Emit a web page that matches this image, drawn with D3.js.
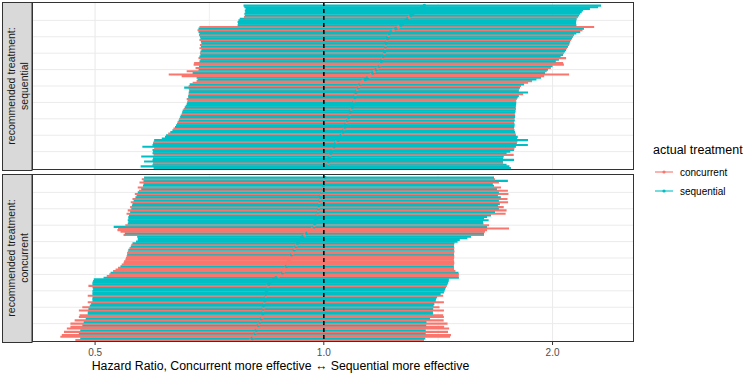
<!DOCTYPE html>
<html>
<head>
<meta charset="utf-8">
<script src="https://cdn.jsdelivr.net/npm/d3@7"></script>
<style>
  body { margin: 0; background: #fff; }
  text { font-family: "Liberation Sans", Arial, sans-serif; }
</style>
</head>
<body>
<div id="chart"></div>
<script>

// rows ordered bottom -> top, sorted by estimate inside each panel
// panel 1: recommended treatment sequential
let seqEst = [
  1.010,1.011,1.012,1.013,1.014,1.015,1.016,1.018,1.019,1.021,
  1.023,1.026,1.028,1.031,1.034,1.037,1.040,1.044,1.047,1.051,
  1.054,1.058,1.060,1.062,1.064,1.066,1.068,1.070,1.072,1.074,
  1.076,1.078,1.080,1.082,1.083,1.085,1.087,1.089,1.091,1.093,
  1.094,1.096,1.097,1.098,1.099,1.101,1.102,1.105,1.107,1.110,
  1.113,1.116,1.119,1.126,1.134,1.142,1.148,1.154,1.160,1.166,
  1.172,1.178,1.183,1.186,1.188,1.190,1.193,1.195,1.197,1.199,
  1.201,1.202,1.203,1.204,1.205,1.206,1.207,1.209,1.211,1.213,
  1.215,1.217,1.219,1.226,1.235,1.244,1.254,1.263,1.269,1.276,
  1.282,1.289,1.296,1.302,1.309,1.315,1.322,1.333,1.345,1.356]
let seqLo = [
  0.597,0.574,0.595,0.596,0.580,0.595,0.596,0.575,0.597,0.595,
  0.596,0.595,0.598,0.577,0.595,0.596,0.597,0.598,0.612,0.618,
  0.620,0.624,0.628,0.632,0.634,0.637,0.639,0.641,0.642,0.644,
  0.645,0.647,0.648,0.650,0.651,0.652,0.654,0.656,0.658,0.660,
  0.661,0.662,0.660,0.663,0.663,0.664,0.664,0.665,0.664,0.655,
  0.664,0.666,0.672,0.680,0.682,0.680,0.650,0.625,0.672,0.660,
  0.684,0.678,0.685,0.674,0.675,0.686,0.688,0.684,0.686,0.688,
  0.687,0.688,0.690,0.686,0.689,0.687,0.690,0.689,0.686,0.688,
  0.687,0.685,0.686,0.684,0.682,0.684,0.686,0.770,0.771,0.770,
  0.772,0.775,0.785,0.787,0.786,0.788,0.787,0.789,0.786,0.784]
let seqHi = [
  1.763,1.755,1.740,1.722,1.721,1.780,1.722,1.725,1.778,1.740,
  1.760,1.780,1.782,1.790,1.856,1.795,1.798,1.857,1.796,1.800,
  1.790,1.788,1.785,1.782,1.780,1.781,1.783,1.782,1.780,1.784,
  1.782,1.785,1.786,1.784,1.787,1.788,1.790,1.789,1.790,1.791,
  1.792,1.790,1.795,1.800,1.806,1.830,1.857,1.806,1.808,1.812,
  1.818,1.835,1.857,1.880,1.905,1.932,1.950,2.103,1.955,1.965,
  1.973,1.990,2.000,2.070,2.065,2.020,2.039,2.084,2.050,2.065,
  2.070,2.078,2.084,2.090,2.096,2.103,2.106,2.110,2.116,2.122,
  2.128,2.135,2.150,2.175,2.190,2.200,2.269,2.150,2.148,2.148,
  2.150,2.152,2.160,2.167,2.175,2.185,2.194,2.240,2.296,2.317]
// c = concurrent, s = sequential
let seqActual = ("ssscsssscs" + "sscssscsss" + "scsscssscs" + "csscsscsss" + "sccsscsscs" +
                 "csccssccsc" + "scsccsscss" + "csscscsscs" + "scsscscsss" + "sscsssssss").split("")

// panel 2: recommended treatment concurrent
let conEst = [
  0.801,0.805,0.809,0.811,0.812,0.814,0.815,0.817,0.819,0.820,
  0.822,0.824,0.825,0.827,0.830,0.830,0.831,0.831,0.832,0.832,
  0.833,0.833,0.834,0.835,0.836,0.837,0.838,0.839,0.839,0.840,
  0.841,0.842,0.843,0.844,0.846,0.849,0.852,0.858,0.865,0.872,
  0.879,0.882,0.885,0.888,0.891,0.893,0.895,0.897,0.899,0.901,
  0.903,0.905,0.907,0.910,0.912,0.914,0.916,0.919,0.921,0.923,
  0.926,0.928,0.934,0.939,0.944,0.950,0.955,0.961,0.966,0.971,
  0.972,0.973,0.975,0.976,0.977,0.979,0.980,0.981,0.982,0.983,
  0.984,0.985,0.985,0.986,0.987,0.988,0.989,0.990,0.991,0.992,
  0.993,0.994,0.996,0.997,0.998,0.999,1.000,1.001,1.002,1.003]
let conLo = [
  0.471,0.478,0.450,0.452,0.476,0.455,0.478,0.459,0.464,0.481,
  0.464,0.483,0.470,0.486,0.476,0.477,0.489,0.489,0.476,0.490,
  0.481,0.492,0.494,0.489,0.496,0.496,0.496,0.489,0.496,0.496,
  0.496,0.497,0.496,0.490,0.496,0.496,0.497,0.498,0.513,0.518,
  0.522,0.524,0.528,0.532,0.536,0.540,0.542,0.545,0.546,0.548,
  0.549,0.550,0.551,0.551,0.552,0.553,0.555,0.557,0.558,0.560,
  0.566,0.569,0.569,0.568,0.545,0.547,0.540,0.535,0.536,0.529,
  0.548,0.552,0.553,0.552,0.553,0.553,0.554,0.550,0.556,0.552,
  0.558,0.556,0.559,0.560,0.557,0.562,0.560,0.565,0.567,0.564,
  0.569,0.571,0.575,0.569,0.578,0.579,0.572,0.579,0.576,0.580]
let conHi = [
  1.355,1.360,1.466,1.470,1.362,1.457,1.362,1.462,1.440,1.364,
  1.455,1.365,1.438,1.380,1.439,1.436,1.392,1.392,1.439,1.393,
  1.420,1.395,1.398,1.439,1.404,1.405,1.410,1.436,1.425,1.439,
  1.442,1.444,1.448,1.452,1.455,1.458,1.460,1.461,1.506,1.505,
  1.506,1.504,1.490,1.484,1.484,1.483,1.484,1.485,1.484,1.483,
  1.484,1.485,1.484,1.484,1.486,1.484,1.485,1.484,1.484,1.486,
  1.500,1.510,1.545,1.562,1.625,1.625,1.630,1.640,1.753,1.640,
  1.650,1.622,1.620,1.648,1.625,1.640,1.660,1.735,1.680,1.740,
  1.700,1.725,1.695,1.705,1.748,1.700,1.745,1.710,1.695,1.750,
  1.700,1.747,1.690,1.711,1.675,1.669,1.700,1.747,1.680,1.675]
let conActual = ("csccscsccs" + "cscsccsscs" + "csscssscss" + "ssscsssssc" + "cscccscccc" +
                 "ccsccscscs" + "sssscscccs" + "csssssscsc" + "scsscscssc" + "scscsscscs").split("")

let xTicks = [0.5, 1, 2]
let xTickLabels = ["0.5", "1.0", "2.0"]
let xMinor = [0.707, 1.414]
let yBreaks = [10, 20, 30, 40, 50, 60, 70, 80, 90]
let stripLabels = [["recommended treatment:", "sequential"], ["recommended treatment:", "concurrent"]]
let legendKeys = ["c", "s"]
let legendLabels = ["concurrent", "sequential"]

let colors = { c: "#F8766D", s: "#00BFC4" }

let svg = d3.select("#chart").append("svg")
svg.attr("width", 745)
svg.attr("height", 375)

let panelLeft = 32, panelRight = 634, panelH = 168
let panelTops = [2, 174]

let xScale = d3.scaleLog()
               .domain([0.413, 2.56])
               .range([panelLeft, panelRight])

let panels = [
  { est: seqEst, lo: seqLo, hi: seqHi, actual: seqActual, strip: stripLabels[0] },
  { est: conEst, lo: conLo, hi: conHi, actual: conActual, strip: stripLabels[1] }
]

panels.forEach(function (p, k) {
  let top = panelTops[k]
  let rows = p.est.map(function (e, i) {
    return { est: e, lo: p.lo[i], hi: p.hi[i], actual: p.actual[i], idx: i }
  })
  let yScale = d3.scaleLinear()
                 .domain([-1.2, p.est.length + 1.2])
                 .range([top + panelH, top])

  let g = svg.append("g")

  // strip on the left
  g.append("rect")
   .attr("x", 2.5).attr("y", top + 0.5)
   .attr("width", panelLeft - 2.5).attr("height", panelH)
   .style("fill", "#D9D9D9")
   .style("stroke", "#333333")
   .style("stroke-width", 1)

  g.append("text")
   .attr("transform", "translate(17," + (top + panelH / 2) + ") rotate(-90)")
   .attr("text-anchor", "middle")
   .style("font-size", "10.5px")
   .style("fill", "#1A1A1A")
   .selectAll("tspan")
   .data(p.strip)
   .enter()
   .append("tspan")
   .attr("x", 0)
   .attr("dy", function (d, i) { return i == 0 ? "-0.15em" : "1.15em" })
   .text(d => d)

  // panel background + grid
  g.append("rect")
   .attr("x", panelLeft).attr("y", top)
   .attr("width", panelRight - panelLeft).attr("height", panelH)
   .style("fill", "white")

  g.selectAll(".hgrid")
   .data(yBreaks)
   .enter()
   .append("line")
   .attr("x1", panelLeft).attr("x2", panelRight)
   .attr("y1", d => yScale(d)).attr("y2", d => yScale(d))
   .style("stroke", "#EBEBEB")
   .style("stroke-width", 1)

  g.selectAll(".vminor")
   .data(xMinor)
   .enter()
   .append("line")
   .attr("x1", d => xScale(d)).attr("x2", d => xScale(d))
   .attr("y1", top).attr("y2", top + panelH)
   .style("stroke", "#EBEBEB")
   .style("stroke-width", 0.7)

  g.selectAll(".vmajor")
   .data(xTicks)
   .enter()
   .append("line")
   .attr("x1", d => xScale(d)).attr("x2", d => xScale(d))
   .attr("y1", top).attr("y2", top + panelH)
   .style("stroke", "#EBEBEB")
   .style("stroke-width", 1.1)

  // intervals
  g.selectAll(".ci")
   .data(rows)
   .enter()
   .append("line")
   .attr("x1", d => xScale(d.lo))
   .attr("x2", d => xScale(d.hi))
   .attr("y1", d => yScale(d.idx))
   .attr("y2", d => yScale(d.idx))
   .style("stroke", d => colors[d.actual])
   .style("stroke-width", 2.1)

  // point estimates
  g.selectAll(".pt")
   .data(rows)
   .enter()
   .append("circle")
   .attr("cx", d => xScale(d.est))
   .attr("cy", d => yScale(d.idx))
   .attr("r", 1.8)
   .style("fill", d => colors[d.actual])

  // reference line at HR = 1
  g.append("line")
   .attr("x1", xScale(1)).attr("x2", xScale(1))
   .attr("y1", top).attr("y2", top + panelH)
   .style("stroke", "black")
   .style("stroke-width", 1.6)
   .style("stroke-dasharray", "4,3")

  g.append("rect")
   .attr("x", panelLeft + 0.5).attr("y", top + 0.5)
   .attr("width", panelRight - panelLeft - 1).attr("height", panelH - 1)
   .style("fill", "none")
   .style("stroke", "#333333")
   .style("stroke-width", 1)
})

// x axis under the bottom panel
let axisY = panelTops[1] + panelH
let xAxis = svg.append("g")
xAxis.selectAll(".tick")
     .data(xTicks)
     .enter()
     .append("line")
     .attr("x1", d => xScale(d)).attr("x2", d => xScale(d))
     .attr("y1", axisY).attr("y2", axisY + 3)
     .style("stroke", "#333333")
     .style("stroke-width", 1)
xAxis.selectAll(".lab")
     .data(xTicks)
     .enter()
     .append("text")
     .attr("x", d => xScale(d))
     .attr("y", axisY + 14)
     .attr("text-anchor", "middle")
     .style("font-size", "10px")
     .style("fill", "#4D4D4D")
     .text(function (d, i) { return xTickLabels[i] })

svg.append("text")
   .attr("x", 280.5)
   .attr("y", 370)
   .attr("text-anchor", "middle")
   .style("font-size", "12.3px")
   .style("fill", "black")
   .text("Hazard Ratio, Concurrent more effective \u2194 Sequential more effective")

// legend
let legend = svg.append("g")
legend.append("text")
      .attr("x", 653).attr("y", 154)
      .style("font-size", "12.5px")
      .style("fill", "black")
      .text("actual treatment")

let keys = legend.selectAll(".key")
                 .data(legendKeys)
                 .enter()
                 .append("g")
                 .attr("transform", function (d, i) { return "translate(0," + (172 + i * 19) + ")" })
keys.append("line")
    .attr("x1", 655).attr("x2", 673)
    .attr("y1", 0).attr("y2", 0)
    .style("stroke", d => colors[d])
    .style("stroke-width", 1.1)
keys.append("circle")
    .attr("cx", 664).attr("cy", 0).attr("r", 1.6)
    .style("fill", d => colors[d])
keys.append("text")
    .attr("x", 680).attr("y", 3.5)
    .style("font-size", "10px")
    .style("fill", "black")
    .text(function (d, i) { return legendLabels[i] })

</script>
</body>
</html>
